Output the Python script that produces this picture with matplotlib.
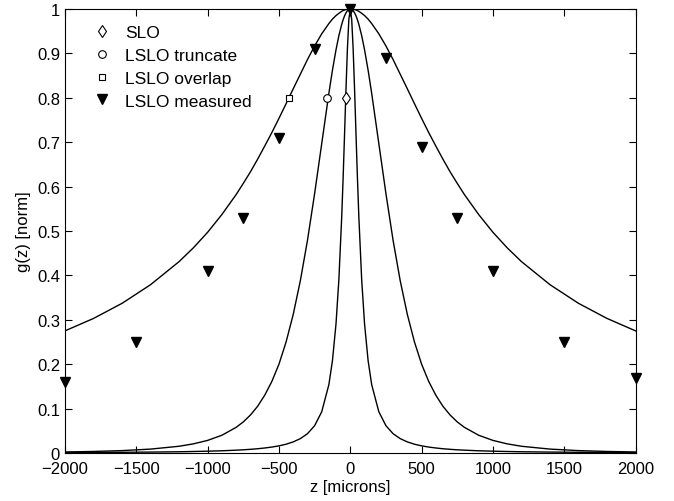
import matplotlib
matplotlib.use("Agg")
import matplotlib.pyplot as plt

plt.rcParams['font.family'] = ['Liberation Sans', 'DejaVu Sans']

# half-profile positions (microns), curves are symmetric about z = 0
z_half = [0, 10, 20, 30, 40, 50, 60, 80, 100, 125, 150, 200, 250, 300, 350, 400, 450,
          500, 550, 600, 650, 700, 750, 800, 900, 1000, 1100, 1200, 1400, 1600, 1800, 2000]

# values
g_slo = [1.000, 0.976, 0.911, 0.820, 0.719, 0.621, 0.532, 0.390, 0.291, 0.208, 0.154,
         0.093, 0.0615, 0.0435, 0.0324, 0.0250, 0.0198, 0.0161, 0.0134, 0.0113, 0.0096,
         0.0083, 0.0072, 0.0064, 0.0050, 0.0041, 0.0034, 0.0028, 0.0021, 0.0016, 0.0013,
         0.0010]
g_trunc = [1.000, 0.9990, 0.9961, 0.9912, 0.9844, 0.9757, 0.9653, 0.9397, 0.908, 0.862,
           0.810, 0.697, 0.584, 0.479, 0.388, 0.312, 0.250, 0.200, 0.161, 0.130, 0.105,
           0.0855, 0.070, 0.0578, 0.040, 0.0284, 0.0206, 0.0152, 0.0088, 0.0054, 0.0035,
           0.0023]
g_overlap = [1.000, 0.9998, 0.9994, 0.9986, 0.9976, 0.9962, 0.9946, 0.990, 0.985, 0.977,
             0.967, 0.944, 0.9165, 0.886, 0.853, 0.820, 0.7865, 0.7535, 0.7214, 0.691,
             0.6613, 0.633, 0.6071, 0.582, 0.537, 0.497, 0.462, 0.431, 0.379, 0.337,
             0.303, 0.275]

# marker points
slo_z, slo_g = [-28], [0.8]
trunc_z, trunc_g = [-163], [0.8]
overlap_z, overlap_g = [-430], [0.8]
meas_z = [-2000, -1500, -1000, -750, -500, -250, 0, 250, 500, 750, 1000, 1500, 2000]
meas_g = [0.16, 0.25, 0.41, 0.53, 0.71, 0.91, 1.0, 0.89, 0.69, 0.53, 0.41, 0.25, 0.17]

fig = plt.figure(figsize=(6.74, 5.02), dpi=100)
ax = fig.add_axes([0.0964, 0.0956, 0.8466, 0.8847])

for g in (g_slo, g_trunc, g_overlap):
    zz = [-z for z in z_half[::-1]] + z_half[1:]
    gg = g[::-1] + g[1:]
    ax.plot(zz, gg, color='black', lw=1.0)

h1, = ax.plot(slo_z, slo_g, 'd', ms=6, mfc='white', mec='black', mew=0.8, ls='none')
h2, = ax.plot(trunc_z, trunc_g, 'o', ms=5.5, mfc='white', mec='black', mew=0.8, ls='none')
h3, = ax.plot(overlap_z, overlap_g, 's', ms=4.5, mfc='white', mec='black', mew=0.8, ls='none')
h4, = ax.plot(meas_z, meas_g, 'v', ms=7, mfc='black', mec='black', ls='none', clip_on=False)

ax.legend([h1, h2, h3, h4], ['SLO', 'LSLO truncate', 'LSLO overlap', 'LSLO measured'],
          loc='upper left', bbox_to_anchor=(0.019, 1.0), frameon=False, fontsize=12.5,
          handletextpad=0.75, labelspacing=0.45, borderaxespad=0.5, handlelength=1.2)

ax.set_xlim(-2000, 2000)
ax.set_ylim(0, 1)
ax.set_xticks(range(-2000, 2001, 500))
ax.set_yticks([i / 10 for i in range(11)])
ax.set_yticklabels(['0', '0.1', '0.2', '0.3', '0.4', '0.5', '0.6', '0.7', '0.8', '0.9', '1'])
ax.tick_params(direction='in', top=True, right=True, labelsize=12, length=5, width=0.8)
ax.tick_params(axis='x', pad=6)
for s in ax.spines.values():
    s.set_linewidth(0.8)

ax.set_xlabel('z [microns]', fontsize=12, labelpad=2)
ax.set_ylabel('g(z) [norm]', fontsize=12, labelpad=4)

fig.savefig('out.png', dpi=100)
